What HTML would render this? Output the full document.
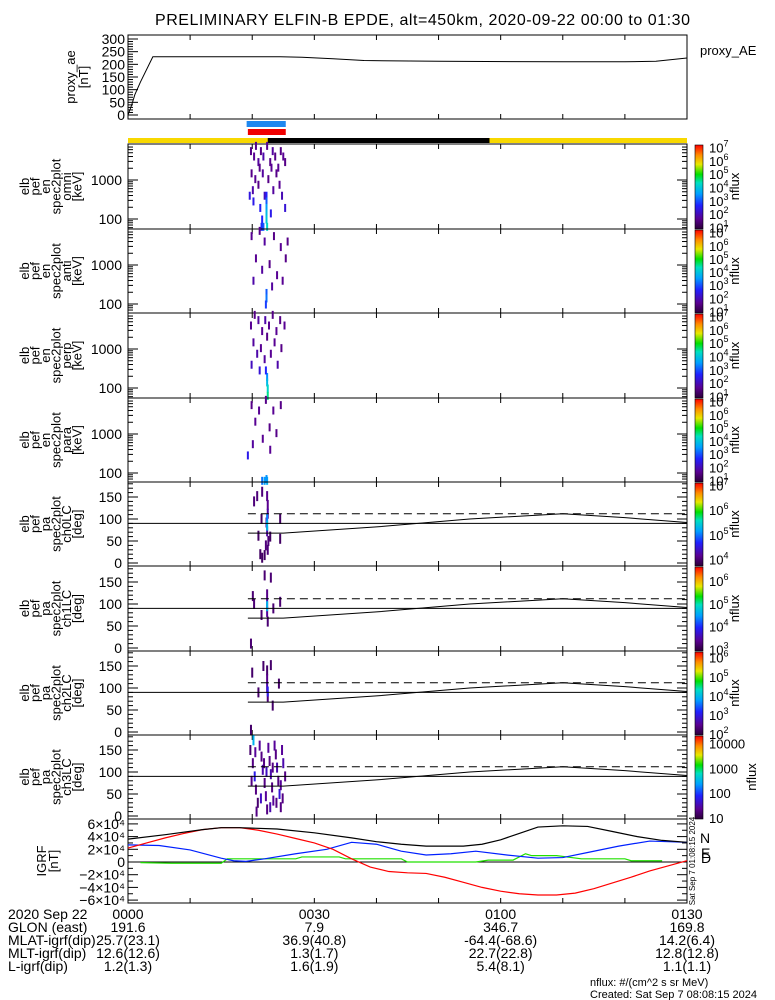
<!DOCTYPE html>
<html><head><meta charset="utf-8">
<style>
html,body{margin:0;padding:0;background:#fff;}
svg{display:block;font-family:"Liberation Sans",sans-serif;}
text{fill:#000;}
</style></head>
<body>
<svg id="chart" width="775" height="1000" viewBox="0 0 775 1000" xmlns="http://www.w3.org/2000/svg">
<text x="155" y="25" font-size="16" text-anchor="start" textLength="535" lengthAdjust="spacing">PRELIMINARY ELFIN-B EPDE, alt=450km, 2020-09-22 00:00 to 01:30</text>
<g id="g"></g>
</svg>
<script>
// ---------- data ----------
const aeTimes = [0, 0.6, 1.1, 2.0, 4.0, 24.5, 28, 33, 38, 50, 70, 80, 85, 90];
const aeValues = [0, 40, 80, 130, 230, 230, 228, 222, 215, 212, 210, 210, 212, 225];
const aeTicks = [0, 50, 100, 150, 200, 250, 300];

const timeTickLabels = ["0000", "0030", "0100", "0130"];
const glonRow = ["191.6", "7.9", "346.7", "169.8"];
const mlatRow = ["25.7(23.1)", "36.9(40.8)", "-64.4(-68.6)", "14.2(6.4)"];
const mltRow = ["12.6(12.6)", "1.3(1.7)", "22.7(22.8)", "12.8(12.8)"];
const lRow = ["1.2(1.3)", "1.6(1.9)", "5.4(8.1)", "1.1(1.1)"];

const igrfTotalT = [0, 6, 12, 15, 18, 24, 30, 36, 40, 44, 48, 54, 57, 60, 63, 66, 70, 74, 78, 82, 86, 90];
const igrfTotal = [36000, 43000, 51000, 54000, 54000, 52000, 46000, 38000, 32000, 28000, 25000, 25000, 28000, 35000, 45000, 55000, 57000, 56000, 48000, 40000, 34000, 31000];
const igrfNT = [0, 5, 10, 15, 17, 19, 22, 27, 32, 36, 40, 44, 48, 52, 56, 61, 66, 70, 74, 79, 84, 90];
const igrfN = [27000, 26000, 19000, 6000, 2000, 1000, 5000, 13000, 20000, 31000, 28000, 17000, 11000, 13000, 17000, 11000, 6000, 7000, 15000, 25000, 33000, 31000];
const igrfET = [0, 3, 6, 9, 12, 15, 18, 21, 24, 27, 30, 33, 36, 39, 42, 45, 48, 51, 54, 57, 60, 63, 66, 69, 72, 75, 78, 81, 84, 87, 90];
const igrfE = [22000, 30000, 38000, 45000, 51000, 54000, 54000, 50000, 44000, 37000, 30000, 20000, 5000, -8000, -15000, -17000, -18000, -24000, -32000, -40000, -46000, -50000, -52000, -52000, -49000, -42000, -33000, -24000, -14000, -6000, 2000];
const igrfDT = [2, 7, 15, 16, 27, 28, 34, 35, 44, 45, 56, 58, 62, 64, 65, 69, 73, 80, 81, 86];
const igrfD = [-1000, -2000, -2000, 5000, 5000, 8000, 8000, 5000, 5000, 0, 0, 3000, 3000, 13000, 10000, 10000, 5000, 5000, 2000, 2000];
const igrfTicks = [-60000, -40000, -20000, 0, 20000, 40000, 60000];
const igrfTickLabels = ["−6×10⁴", "−4×10⁴", "−2×10⁴", "0", "2×10⁴", "4×10⁴", "6×10⁴"];

const scienceZoneBlue = [19.1, 25.4];
const scienceZoneRed = [19.3, 25.4];
const shadowSpan = [22.5, 58.2];

const lossConeTimes = [19.3, 25, 40, 55, 70, 80, 90];
const lossConeDeg = [68, 68, 82, 100, 112, 103, 92];
const antiLossConeDeg = [112, 112, 112, 112, 112, 112, 112];

// spectrogram marks: [time(min), energy(keV), log10 flux]
const specOmni = [[19.8,5500,1.5],[20.3,4000,1.6],[20.6,7500,1.5],[21.0,2880,1.7],[21.4,5500,1.5],[21.8,4000,1.8],[22.4,7500,1.6],[22.9,2880,1.5],[23.3,5500,1.7],[23.7,4000,1.5],[24.2,2070,1.6],[24.6,5500,1.5],[25.0,4000,1.6],[19.9,1480,1.5],[20.5,1052,1.6],[21.2,2070,1.5],[21.7,1480,1.7],[22.6,1052,1.5],[23.1,2070,1.6],[23.9,1480,1.5],[24.4,755,1.6],[20.1,548,1.8],[21.0,755,1.5],[22.0,395,2.0],[23.4,548,1.7],[24.8,395,1.9],[25.3,2880,1.5],[19.6,395,2.3],[20.2,282,2.4],[21.3,192,2.5],[21.6,97,2.6],[23.0,139,2.4],[25.3,192,2.2],[22.3,395,2.6],[22.3,282,3.0],[22.3,192,3.5],[22.3,139,3.8],[22.3,97,4.0],[22.4,63,4.2],[21.8,63,3.0],[21.5,63,2.7]];
const specAnti = [[19.9,5500,1.6],[21.2,7500,1.5],[22.0,4000,1.7],[23.5,5500,1.5],[24.6,2880,1.6],[25.7,4000,1.5],[20.6,1480,1.6],[22.8,1052,1.5],[21.6,755,1.7],[24.0,548,1.6],[25.4,1480,1.5],[20.2,395,1.8],[23.2,282,1.7],[22.3,192,3.0],[22.3,139,3.2],[22.2,97,2.8],[24.9,395,1.6]];
const specPerp = [[19.8,4000,1.6],[20.4,7500,1.5],[21.0,5500,1.7],[21.6,2880,1.6],[22.1,5500,1.8],[22.7,4000,1.6],[23.3,7500,1.5],[23.9,2880,1.6],[24.5,5500,1.5],[25.2,4000,1.6],[20.2,1480,1.7],[21.4,1052,1.6],[22.4,2070,1.5],[23.6,1480,1.6],[24.7,1052,1.5],[20.8,755,1.8],[22.0,548,1.7],[23.0,755,1.6],[24.1,395,1.8],[19.9,395,2.0],[21.2,282,2.2],[22.4,192,3.4],[22.4,139,3.8],[22.5,97,4.2],[22.5,63,4.5],[22.2,282,2.6]];
const specPara = [[19.9,5500,1.5],[21.1,4000,1.6],[22.2,7500,1.5],[23.4,4000,1.6],[24.6,5500,1.5],[20.5,2070,1.6],[22.8,1480,1.5],[21.7,755,1.6],[23.9,1052,1.5],[20.1,548,1.7],[22.9,395,1.6],[19.3,282,2.4],[21.6,63,3.2],[22.0,63,3.5],[22.4,63,3.7],[22.3,70,3.4]];

// pitch-angle marks: [time(min), deg, log10 flux]
const pa0 = [[20.3,140,4.0],[20.8,152,4.0],[21.6,162,4.0],[22.4,152,4.1],[22.5,132,4.1],[22.5,112,4.2],[22.3,92,4.3],[22.4,72,4.2],[22.6,50,4.0],[22.5,30,4.0],[22.0,18,3.9],[21.6,12,3.9],[21.3,20,3.9],[22.2,40,4.0],[21.0,62,3.9],[22.9,60,3.9],[24.5,55,3.9],[21.5,100,3.9],[24.5,100,3.9],[22.4,100,5.0],[22.4,85,5.3]];
const pa1 = [[22.0,165,3.2],[23.0,160,3.2],[22.4,122,3.3],[22.4,102,3.5],[22.4,82,3.4],[22.5,60,3.2],[20.1,118,3.2],[20.3,100,3.2],[19.8,10,3.2],[21.5,75,3.2],[23.4,90,3.2],[24.5,105,3.2],[22.4,95,4.6]];
const pa2 = [[21.8,150,2.2],[22.4,140,2.2],[23.0,152,2.2],[22.4,120,2.4],[22.4,100,2.6],[22.5,80,2.3],[21.0,90,2.2],[20.0,135,2.2],[23.3,60,2.2],[24.3,110,2.2],[19.8,5,2.2],[22.5,92,3.0]];
const pa3 = [[19.7,150,1.2],[20.1,120,1.3],[20.4,90,1.8],[20.6,60,1.3],[20.9,30,1.2],[21.2,160,1.4],[21.5,135,1.3],[21.7,105,1.5],[22.0,75,1.3],[22.2,45,1.4],[22.4,15,1.3],[22.6,155,1.4],[22.8,125,1.3],[23.0,95,1.5],[23.2,65,1.3],[23.4,35,1.4],[23.6,160,1.4],[23.8,140,1.3],[24.0,110,1.5],[24.2,80,1.3],[24.4,50,1.7],[24.6,20,1.3],[24.8,150,1.4],[25.0,120,1.5],[25.3,90,1.3],[20.2,172,2.5],[19.9,80,1.3],[20.7,10,1.3],[21.4,40,1.6],[22.9,20,1.5],[23.9,30,1.3],[21.9,120,1.3],[23.3,110,1.3],[24.6,70,1.4],[20.5,145,1.4],[22.3,100,1.6],[24.9,40,1.3]];

// ---------- layout ----------
const NS = "http://www.w3.org/2000/svg";
const G = document.getElementById('g');
const XL = 128, XR = 687;
const X = t => XL + t * (XR - XL) / 90;
function el(tag, attrs, parent) {
  const e = document.createElementNS(NS, tag);
  for (const k in attrs) e.setAttribute(k, attrs[k]);
  (parent || G).appendChild(e);
  return e;
}
function txt(s, x, y, size, anchor, parent, fill) {
  const t = el('text', {x: x, y: y, 'font-size': size || 13, 'text-anchor': anchor || 'end'}, parent);
  if (fill) t.setAttribute('fill', fill);
  t.textContent = s;
  return t;
}
function line(x1, y1, x2, y2, parent, stroke, dash) {
  const l = el('line', {x1: x1, y1: y1, x2: x2, y2: y2, stroke: stroke || '#000', 'stroke-width': 1}, parent);
  if (dash) l.setAttribute('stroke-dasharray', dash);
  return l;
}
const stops = [[0,'#2a0038'],[0.12,'#5a0090'],[0.28,'#2020ff'],[0.42,'#00a0ff'],[0.55,'#00e0c0'],[0.65,'#00e000'],[0.77,'#e8e800'],[0.88,'#ff8c00'],[1,'#ff0000']];
function hexToRgb(h){return [parseInt(h.substr(1,2),16),parseInt(h.substr(3,2),16),parseInt(h.substr(5,2),16)];}
function cmap(f) {
  f = Math.max(0, Math.min(1, f));
  for (let i = 1; i < stops.length; i++) {
    if (f <= stops[i][0]) {
      const a = stops[i-1], b = stops[i], u = (f - a[0]) / (b[0] - a[0]);
      const ca = hexToRgb(a[1]), cb = hexToRgb(b[1]);
      return 'rgb(' + ca.map((c, j) => Math.round(c + (cb[j] - c) * u)).join(',') + ')';
    }
  }
  return '#ff0000';
}
const defs = el('defs', {});
const grad = el('linearGradient', {id: 'cbgrad', x1: 0, y1: 1, x2: 0, y2: 0}, defs);
stops.forEach(s => el('stop', {offset: s[0], 'stop-color': s[1]}, grad));

function frame(top, bot, name) {
  const g = el('g', {});
  
  
  el('rect', {x: XL, y: top, width: XR - XL, height: bot - top, fill: 'none', stroke: '#000', 'stroke-width': 1}, g);
  for (let m = 10; m < 90; m += 10) {
    line(X(m), bot, X(m), bot - 5, g);
    line(X(m), top, X(m), top + 5, g);
  }
  return g;
}
function ylabel(lines, cy, x0, dx, g) {
  lines.forEach((s, i) => {
    const x = x0 + i * dx;
    const t = el('text', {x: 0, y: 0, 'font-size': 13, 'text-anchor': 'middle', transform: 'translate(' + x + ',' + cy + ') rotate(-90)'}, g);
    t.textContent = s;
  });
}
function colorbar(top, bot, cmin, cmax, labels, name) {
  const g = el('g', {});
  
  
  el('rect', {x: 695, y: top + 1, width: 8, height: bot - top - 1, fill: 'url(#cbgrad)', stroke: '#000', 'stroke-width': 0.6}, g);
  labels.forEach(L => {
    const y = bot - (L[0] - cmin) / (cmax - cmin) * (bot - top);
    if (L[1] === 'pow') {
      const t = txt('10', 709, y + 6, 13, 'start', g);
      const s = el('tspan', {dy: -6, 'font-size': 9}, t);
      s.textContent = String(L[0]);
    } else txt(L[1], 709, y + 5, 13, 'start', g);
  });
  const cy = (top + bot) / 2;
  const t = el('text', {x: 0, y: 0, 'font-size': 13, 'text-anchor': 'middle', transform: 'translate(' + (L_nflux(labels)) + ',' + cy + ') rotate(-90)'}, g);
  t.textContent = 'nflux';
}
function L_nflux(labels){ return labels.some(l => l[1] !== 'pow') ? 756 : 739; }

// ---------- AE panel ----------
(function(){
  const top = 35, bot = 119;
  const Y = v => 115 - v * 76 / 300;
  const g = frame(top, bot, 'proxy-ae-panel');
  for (let v = 0; v <= 300; v += 10) {
    const len = v % 50 === 0 ? 10 : 5;
    line(XL, Y(v), XL + len, Y(v), g);
  }
  aeTicks.forEach(v => txt(String(v), 125, Y(v) + 5, 14, 'end', g));
  const pl = el('polyline', {fill: 'none', stroke: '#000', 'stroke-width': 1, points: aeTimes.map((t, i) => X(t) + ',' + Y(aeValues[i])).join(' ')}, g);
  
  
  ylabel(['proxy_ae', '[nT]'], 77, 75, 13, g);
  txt('proxy_AE', 700, 55, 13, 'start', g);
})();

// ---------- orbit bars ----------
(function(){
  const g = el('g', {});
  
  
  const b = el('rect', {x: X(scienceZoneBlue[0]), y: 121, width: X(scienceZoneBlue[1]) - X(scienceZoneBlue[0]), height: 6, fill: '#1e88f0'}, g);
  
  
  const r = el('rect', {x: X(scienceZoneRed[0]), y: 129, width: X(scienceZoneRed[1]) - X(scienceZoneRed[0]), height: 6, fill: '#f00000'}, g);
  
  
  const y = el('rect', {x: XL, y: 138, width: XR - XL, height: 5, fill: '#f8d800'}, g);
  
  
  const k = el('rect', {x: X(shadowSpan[0]), y: 138, width: X(shadowSpan[1]) - X(shadowSpan[0]), height: 5, fill: '#000'}, g);
  
  
})();

// ---------- energy spectrograms ----------
const specTops = [144, 229, 313, 398];
const specNames = ['omni', 'anti', 'perp', 'para'];
const specData = [specOmni, specAnti, specPerp, specPara];
specTops.forEach((top, pi) => {
  const bot = pi < 3 ? specTops[pi + 1] : 482;
  const Y = E => top + 36 - 39 * Math.log10(E / 1000);
  const g = frame(top, bot, 'energy-spectrogram-' + specNames[pi]);
  specData[pi].forEach(d => {
    const r = el('rect', {x: X(d[0]) - 1, y: Y(d[1]) - 4, width: 2, height: 8, fill: cmap((d[2] - 0.8) / 6.4)}, g);
    
    
  });
  [10, 100, 1000, 10000].forEach(dec => {
    for (let k = 1; k < 10; k++) {
      const v = dec * k; const y = Y(v);
      if (y < top + 1 || y > bot - 1) continue;
      const len = k === 1 ? 10 : 5;
      line(XL, y, XL + len, y, g); line(XR, y, XR - len, y, g);
    }
  });
  txt('1000', 122, Y(1000) + 5, 14, 'end', g);
  txt('100', 122, Y(100) + 5, 14, 'end', g);
  ylabel(['elb', 'pef', 'en', 'spec2plot', specNames[pi], '[keV]'], (top + bot) / 2, 29, 10.5, g);
  const labels = [[7,'pow'],[6,'pow'],[5,'pow'],[4,'pow'],[3,'pow'],[2,'pow'],[1,'pow']];
  colorbar(top, bot, 0.8, 7.2, labels, 'colorbar-' + specNames[pi]);
});

// ---------- pitch-angle panels ----------
const paTops = [482, 566, 651, 735];
const paNames = ['ch0LC', 'ch1LC', 'ch2LC', 'ch3LC'];
const paData = [pa0, pa1, pa2, pa3];
const paRanges = [[3.7, 7.1], [2.9, 6.6], [1.9, 6.3], [0.95, 4.35]];
const paLabels = [
  [[7,'pow'],[6,'pow'],[5,'pow'],[4,'pow']],
  [[6,'pow'],[5,'pow'],[4,'pow'],[3,'pow']],
  [[6,'pow'],[5,'pow'],[4,'pow'],[3,'pow'],[2,'pow']],
  [[4,'10000'],[3,'1000'],[2,'100'],[1,'10']]
];
paTops.forEach((top, pi) => {
  const bot = pi < 3 ? paTops[pi + 1] : 819;
  const Y = d => bot - 3 - 0.44 * d;
  const g = frame(top, bot, 'pitch-angle-spectrogram-' + paNames[pi]);
  const rg = paRanges[pi];
  paData[pi].forEach(d => {
    const r = el('rect', {x: X(d[0]) - 1, y: Y(d[1]) - 5, width: 2, height: 10, fill: cmap((d[2] - rg[0]) / (rg[1] - rg[0]))}, g);
    
    
  });
  line(XL, Y(90), XR, Y(90), g);
  const lc = el('polyline', {fill: 'none', stroke: '#000', 'stroke-width': 1, points: lossConeTimes.map((t, i) => X(t) + ',' + Y(lossConeDeg[i])).join(' ')}, g);
  
  
  const alc = el('polyline', {fill: 'none', stroke: '#000', 'stroke-width': 1, 'stroke-dasharray': '8,5', points: lossConeTimes.map((t, i) => X(t) + ',' + Y(antiLossConeDeg[i])).join(' ')}, g);
  
  
  for (let d = 0; d <= 180; d += 10) {
    const y = Y(d); if (y < top + 1) continue;
    const len = d % 50 === 0 ? 10 : 5;
    line(XL, y, XL + len, y, g); line(XR, y, XR - len, y, g);
  }
  [0, 50, 100, 150].forEach(d => txt(String(d), 122, Y(d) + 5, 14, 'end', g));
  ylabel(['elb', 'pef', 'pa', 'spec2plot', paNames[pi], '[deg]'], (top + bot) / 2, 29, 10.5, g);
  colorbar(top, bot, rg[0], rg[1], paLabels[pi], 'colorbar-' + paNames[pi]);
});

// ---------- IGRF panel ----------
(function(){
  const top = 819, bot = 903;
  const Y = v => 862 - v * 12.7 / 20000;
  const g = frame(top, bot, 'igrf-panel');
  for (let v = -60000; v <= 60000; v += 10000) {
    const len = v % 20000 === 0 ? 10 : 5;
    line(XL, Y(v), XL + len, Y(v), g); line(XR, Y(v), XR - len, Y(v), g);
  }
  igrfTicks.forEach((v, i) => txt(igrfTickLabels[i], 125, Y(v) + 5, 14, 'end', g));
  line(XL, Y(0), XR, Y(0), g);
  function series(ts, arr, color, name) {
    const pts = arr.map((v, i) => X(ts[i]) + ',' + Y(v));
    const p = el('polyline', {fill: 'none', stroke: color, 'stroke-width': 1.2, points: pts.join(' ')}, g);
    
    
  }
  series(igrfDT, igrfD, '#20e000', 'igrf-d-line');
  series(igrfNT, igrfN, '#0020ff', 'igrf-n-line');
  series(igrfET, igrfE, '#ff0000', 'igrf-e-line');
  series(igrfTotalT, igrfTotal, '#000', 'igrf-total-line');
  ylabel(['IGRF', '[nT]'], 861, 46, 12, g);
  txt('N', 700, 843, 14, 'start', g, '#0020ff');
  txt('D', 701, 863, 14, 'start', g, '#20e000');
  txt('E', 701, 858, 14, 'start', g, '#ff0000');
  const st = el('text', {x: 0, y: 0, 'font-size': 8, 'text-anchor': 'middle', transform: 'translate(695,861) rotate(-90)'}, g);
  st.textContent = 'Sat Sep  7 01:08:15 2024';
})();

// ---------- bottom annotation ----------
(function(){
  const g = el('g', {});
  
  
  const rows = [['2020 Sep 22', timeTickLabels], ['GLON (east)', glonRow], ['MLAT-igrf(dip)', mlatRow], ['MLT-igrf(dip)', mltRow], ['L-igrf(dip)', lRow]];
  rows.forEach((r, i) => {
    const y = 919 + i * 13;
    txt(r[0], 8, y, 14, 'start', g);
    r[1].forEach((s, j) => txt(s, X(j * 30), y, 14, 'middle', g));
  });
  txt('nflux: #/(cm^2 s sr MeV)', 590, 986, 11, 'start', g);
  txt('Created: Sat Sep  7 08:08:15 2024', 590, 998, 11, 'start', g);
})();
</script>
</body></html>
